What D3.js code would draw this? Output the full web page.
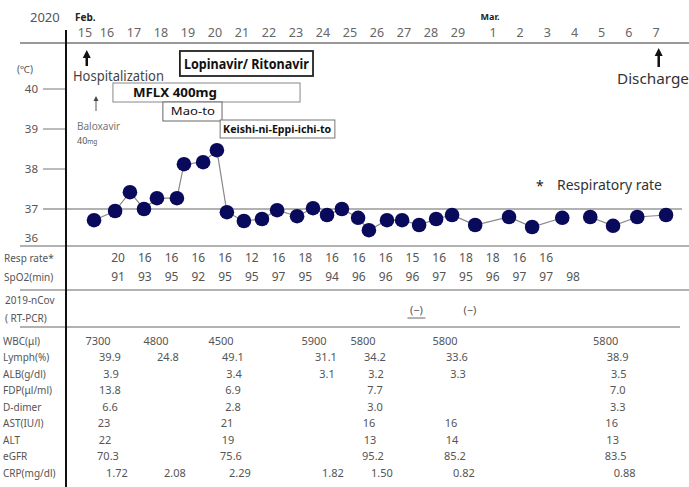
<!DOCTYPE html>
<html>
<head>
<meta charset="utf-8">
<script src="https://cdn.jsdelivr.net/npm/d3@7"></script>
<style>
  body { margin: 0; background: #fff; }
  svg text { font-family: "Noto Sans", "DejaVu Sans", sans-serif; }
</style>
</head>
<body>
<div id="chart"></div>
<script>
// day labels, Feb 15 .. Mar 7
var dayLabels = ["15","16","17","18","19","20","21","22","23","24","25","26","27","28","29",
                 "1","2","3","4","5","6","7"];

// body temperature readings (day offset from Feb 15, degrees C)
var tempDay = [0.41, 1.30, 1.85, 2.37, 2.85, 3.59, 3.85, 4.56, 5.07, 5.44, 6.07, 6.74, 7.30, 8.04,
               8.63, 9.15, 9.70, 10.30, 10.70, 11.37, 11.93, 12.56, 13.19, 13.78, 14.49, 15.59,
               16.44, 17.55, 18.58, 19.42, 20.31, 21.37];
var tempValue = [36.72, 36.95, 37.42, 37.0, 37.27, 37.27, 38.12, 38.17, 38.47, 36.92, 36.7, 36.75,
                 36.97, 36.82, 37.02, 36.85, 37.0, 36.78, 36.47, 36.72, 36.72, 36.6, 36.75, 36.85,
                 36.6, 36.8, 36.55, 36.78, 36.8, 36.58, 36.8, 36.85];
var tempGapAfter = 27; // no line between these two readings

var tempTicks = [38, 39, 40];

// medication periods (day offsets)
var drugNames = ["Lopinavir/ Ritonavir", "MFLX  400mg", "Mao-to", "Keishi-ni-Eppi-ichi-to"];
var drugStart = [3.70, 1.22, 3.07, 5.19];
var drugEnd   = [8.63, 8.15, 5.26, 9.44];

// vitals
var respRate = [20,16,16,16,16,12,16,18,16,16,16,15,16,18,18,16,16];
var spo2 = [91,93,95,92,95,95,97,95,94,96,96,96,97,95,96,97,97,98];

// RT-PCR results (vitals column index)
var pcrCol = [11, 13];
var pcrText = ["(\u2212)", "(\u2212)"];

// laboratory data
var labDay = [1, 3, 5, 9, 11, 14, 19];
var labNames = ["WBC(\u03bcl)", "Lymph(%)", "ALB(g/dl)", "FDP(\u03bcl/ml)", "D-dimer",
                "AST(IU/l)", "ALT", "eGFR", "CRP(mg/dl)"];
var wbc    = ["7300","4800","4500","5900","5800","5800","5800"];
var lymph  = ["39.9","24.8","49.1","31.1","34.2","33.6","38.9"];
var alb    = ["3.9","","3.4","3.1","3.2","3.3","3.5"];
var fdp    = ["13.8","","6.9","","7.7","","7.0"];
var ddimer = ["6.6","","2.8","","3.0","","3.3"];
var ast    = ["23","","21","","16","16","16"];
var alt    = ["22","","19","","13","14","13"];
var egfr   = ["70.3","","75.6","","95.2","85.2","83.5"];
var crp    = ["1.72","2.08","2.29","1.82","1.50","0.82","0.88"];
var labRows = [wbc, lymph, alb, fdp, ddimer, ast, alt, egfr, crp];

var W = 689, H = 487;
var svg = d3.select("#chart").append("svg")
    .attr("width", W).attr("height", H);

// x: days (the column at the end of Feb is a bit wider)
var x = d3.scaleLinear()
    .domain([0, 1, 14, 15, 21])
    .range([85, 107, 458, 493, 656]);
var y = d3.scaleLinear().domain([37, 40]).range([209, 89]);
var col = d3.scaleLinear().domain([0, 17]).range([118, 573]);
var rowY = d3.scaleLinear().domain([0, 8]).range([341, 473]);

var gray = "#555";

// header
svg.append("text").attr("x", 30).attr("y", 22).text("2020")
    .style("font-size", "13px").style("fill", gray);
svg.append("text").attr("x", 75).attr("y", 21).text("Feb.")
    .style("font-size", "10px").style("font-weight", "bold").style("fill", "#222");
svg.append("text").attr("x", x(15) - 3).attr("y", 20).text("Mar.")
    .attr("text-anchor", "middle")
    .style("font-size", "9px").style("font-weight", "bold").style("fill", "#222");

svg.selectAll("text.day").data(dayLabels).enter().append("text")
    .attr("class", "day")
    .attr("x", function (d, i) { return x(i); })
    .attr("y", 37)
    .attr("text-anchor", "middle")
    .text(function (d) { return d; })
    .style("font-size", "12.5px").style("fill", "#666");

// grid lines
svg.append("line").attr("x1", 20).attr("x2", W).attr("y1", 43).attr("y2", 43)
    .style("stroke", "#999").style("stroke-width", 2);
svg.append("line").attr("x1", 20).attr("x2", W).attr("y1", 246).attr("y2", 246)
    .style("stroke", "#999").style("stroke-width", 1.5);
svg.append("line").attr("x1", 20).attr("x2", W).attr("y1", 290).attr("y2", 290)
    .style("stroke", "#999").style("stroke-width", 1.5);
svg.append("line").attr("x1", 20).attr("x2", 680).attr("y1", 327).attr("y2", 327)
    .style("stroke", "#999").style("stroke-width", 1.5);

// temperature axis
svg.append("text").attr("x", 17).attr("y", 73).text("(\u2103)")
    .style("font-size", "10px").style("fill", gray);
tempTicks.forEach(function (t) {
    svg.append("line").attr("x1", 43).attr("x2", 66)
        .attr("y1", y(t)).attr("y2", y(t))
        .style("stroke", "#777").style("stroke-width", 1);
    svg.append("text").attr("x", 38).attr("y", y(t) + 4)
        .attr("text-anchor", "end").text(t)
        .style("font-size", "11.5px").style("fill", gray);
});
svg.append("line").attr("x1", 43).attr("x2", 682)
    .attr("y1", y(37)).attr("y2", y(37))
    .style("stroke", "#999").style("stroke-width", 1.5);
svg.append("text").attr("x", 38).attr("y", y(37) + 4)
    .attr("text-anchor", "end").text("37")
    .style("font-size", "11.5px").style("fill", gray);
svg.append("text").attr("x", 38).attr("y", y(36.28) + 4)
    .attr("text-anchor", "end").text("36")
    .style("font-size", "11.5px").style("fill", gray);

// vertical divider
svg.append("line").attr("x1", 66).attr("x2", 66).attr("y1", 30).attr("y2", H)
    .style("stroke", "#111").style("stroke-width", 2);

// up arrows drawn as shaft + triangle head
function upArrow(cx, yTop, yBottom, headW, headH, sw, color) {
    svg.append("line").attr("x1", cx).attr("x2", cx)
        .attr("y1", yTop + headH - 1).attr("y2", yBottom)
        .style("stroke", color).style("stroke-width", sw);
    svg.append("path")
        .attr("d", "M" + (cx - headW / 2) + "," + (yTop + headH) + " L" + cx + "," + yTop +
              " L" + (cx + headW / 2) + "," + (yTop + headH) + " Z")
        .style("fill", color);
}

upArrow(x(0.08), 50, 66, 8, 8, 2.5, "#111");
svg.append("text").attr("x", 73).attr("y", 81).text("Hospitalization")
    .attr("textLength", 91).attr("lengthAdjust", "spacingAndGlyphs")
    .style("font-size", "14px").style("fill", "#444");

upArrow(x(0.5), 96, 111, 5, 5, 0.9, "#444");
svg.append("text").attr("x", 77).attr("y", 130).text("Baloxavir")
    .style("font-size", "10px").style("fill", "#777");
var mg = svg.append("text").attr("x", 77).attr("y", 144)
    .style("font-size", "9px").style("fill", "#555");
mg.append("tspan").text("40");
mg.append("tspan").text("mg").style("font-size", "6.5px");

upArrow(x(21.1), 48, 67, 8, 8, 2.5, "#111");
svg.append("text").attr("x", 617).attr("y", 84).text("Discharge")
    .attr("textLength", 72).attr("lengthAdjust", "spacingAndGlyphs")
    .style("font-size", "15px").style("fill", "#333");

// medication boxes
var boxTop = [51, 83, 102, 120];
var boxH = [25, 19, 19, 18];
var boxStroke = ["#222", "#888", "#666", "#777"];
var boxStrokeW = [1.8, 1, 1, 1];
var boxFont = ["14px", "12.5px", "11px", "10.5px"];
var boxWeight = ["bold", "bold", "normal", "bold"];
var boxPad = [4, 20, 8, 3];
var boxTextW = [125, 84, 44, 108];
drugNames.forEach(function (name, i) {
    var x0 = x(drugStart[i]), x1 = x(drugEnd[i]);
    svg.append("rect").attr("x", x0).attr("y", boxTop[i])
        .attr("width", x1 - x0).attr("height", boxH[i])
        .style("fill", "#fff").style("stroke", boxStroke[i]).style("stroke-width", boxStrokeW[i]);
    svg.append("text").attr("x", x0 + boxPad[i]).attr("y", boxTop[i] + boxH[i] / 2)
        .attr("dy", "0.36em")
        .attr("textLength", boxTextW[i]).attr("lengthAdjust", "spacingAndGlyphs")
        .text(name)
        .style("font-size", boxFont[i]).style("font-weight", boxWeight[i])
        .style("fill", "#111");
});

// respiratory rate note
svg.append("text").attr("x", 536).attr("y", 191).text("*")
    .style("font-size", "14px").style("fill", "#222");
svg.append("text").attr("x", 557).attr("y", 190).text("Respiratory rate")
    .attr("textLength", 105).attr("lengthAdjust", "spacingAndGlyphs")
    .style("font-size", "13.5px").style("fill", "#333");

// temperature line + points
var pts = tempDay.map(function (d, i) { return { day: d, t: tempValue[i], i: i }; });
var segs = [pts.slice(0, tempGapAfter + 1), pts.slice(tempGapAfter + 1)];
var line = d3.line()
    .x(function (d) { return x(d.day); })
    .y(function (d) { return y(d.t); });
svg.selectAll("path.temp").data(segs).enter().append("path")
    .attr("class", "temp")
    .attr("d", line)
    .style("fill", "none").style("stroke", "#888").style("stroke-width", 1.2);
svg.selectAll("circle.temp").data(pts).enter().append("circle")
    .attr("class", "temp")
    .attr("cx", function (d) { return x(d.day); })
    .attr("cy", function (d) { return y(d.t); })
    .attr("r", 7.3)
    .style("fill", "#0a0a5c");

// vitals rows
var labStyle = function (sel) { return sel.style("font-size", "10px").style("fill", gray); };
labStyle(svg.append("text").attr("x", 4).attr("y", 258).attr("dy", "0.35em").text("Resp rate*"));
labStyle(svg.append("text").attr("x", 4).attr("y", 277).attr("dy", "0.35em").text("SpO2(min)"));
svg.selectAll("text.resp").data(respRate).enter().append("text")
    .attr("class", "resp")
    .attr("x", function (d, i) { return col(i); })
    .attr("y", 258).attr("dy", "0.35em").attr("text-anchor", "middle")
    .text(function (d) { return d; })
    .style("font-size", "12px").style("fill", gray);
svg.selectAll("text.spo2").data(spo2).enter().append("text")
    .attr("class", "spo2")
    .attr("x", function (d, i) { return col(i); })
    .attr("y", 277).attr("dy", "0.35em").attr("text-anchor", "middle")
    .text(function (d) { return d; })
    .style("font-size", "12px").style("fill", gray);

// PCR row
labStyle(svg.append("text").attr("x", 5).attr("y", 300).attr("dy", "0.35em").text("2019-nCov"));
labStyle(svg.append("text").attr("x", 5).attr("y", 318).attr("dy", "0.35em").text("( RT-PCR)"));
pcrCol.forEach(function (c, i) {
    svg.append("text").attr("x", col(c) + 4).attr("y", 310).attr("dy", "0.35em")
        .attr("text-anchor", "middle").text(pcrText[i])
        .style("font-size", "11px").style("fill", gray);
});
svg.append("line").attr("x1", col(pcrCol[0]) - 5).attr("x2", col(pcrCol[0]) + 13)
    .attr("y1", 318).attr("y2", 318).style("stroke", "#666").style("stroke-width", 1);

// lab rows
var colNudge = [0, 4, 15, 0, -5, -4, 13];
var rowNudge = [-9, 3, 4, 3, 3, -3, -2, 1, 10];
labNames.forEach(function (name, r) {
    labStyle(svg.append("text").attr("x", 3).attr("y", rowY(r)).attr("dy", "0.35em").text(name));
    svg.selectAll("text.lab" + r).data(labRows[r]).enter().append("text")
        .attr("class", "lab" + r)
        .attr("x", function (d, i) { return x(labDay[i]) + colNudge[i] + rowNudge[r]; })
        .attr("y", rowY(r)).attr("dy", "0.35em").attr("text-anchor", "middle")
        .text(function (d) { return d; })
        .style("font-size", "11px").style("fill", gray);
});
</script>
</body>
</html>
